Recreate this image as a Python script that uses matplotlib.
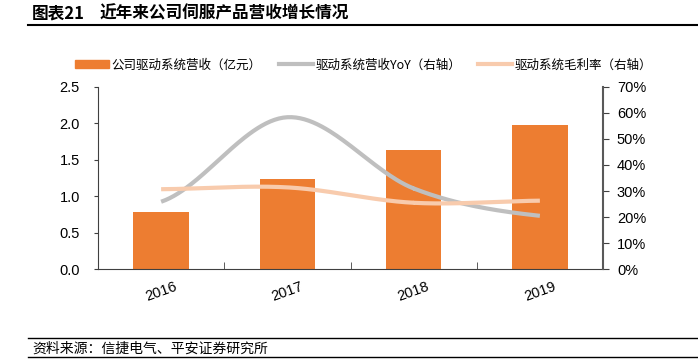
import matplotlib.pyplot as plt
import numpy as np
from matplotlib.lines import Line2D

plt.rcParams['font.family'] = ['Liberation Sans', 'Noto Sans CJK SC', 'DejaVu Sans']

years = ['2016', '2017', '2018', '2019']
revenue = [0.79, 1.24, 1.63, 1.97]          # 亿元
yoy = [25.9, 58.3, 31.0, 20.5]              # %
margin = [30.7, 31.4, 25.5, 26.3]           # %

bar_color = '#ED7D31'
yoy_color = '#BFBFBF'
margin_color = '#F8CBAD'


def smooth(xs, ys, n=60):
    # Catmull-Rom style smoothing like Excel's smoothed line
    xs = np.asarray(xs, float)
    ys = np.asarray(ys, float)
    px = np.concatenate([[2 * xs[0] - xs[1]], xs, [2 * xs[-1] - xs[-2]]])
    py = np.concatenate([[ys[0]], ys, [ys[-1]]])
    ox, oy = [], []
    for i in range(1, len(px) - 2):
        t = np.linspace(0, 1, n)
        for p, o in ((px, ox), (py, oy)):
            p0, p1, p2, p3 = p[i - 1], p[i], p[i + 1], p[i + 2]
            o.extend(0.5 * (2 * p1 + (-p0 + p2) * t
                            + (2 * p0 - 5 * p1 + 4 * p2 - p3) * t ** 2
                            + (-p0 + 3 * p1 - 3 * p2 + p3) * t ** 3))
    return np.array(ox), np.array(oy)


fig = plt.figure(figsize=(6.98, 3.59), dpi=100)
ax = fig.add_axes([0.1404, 0.2499, 0.7235, 0.5086])
x = np.arange(len(years))
ax.bar(x, revenue, width=0.44, color=bar_color, zorder=2)
ax.set_xlim(-0.5, 3.5)
ax.set_ylim(0, 2.5)
ax.set_yticks(np.arange(0, 2.51, 0.5))
ax.set_yticklabels([f'{v:.1f}' for v in np.arange(0, 2.51, 0.5)], fontsize=10.5)
ax.set_xticks(x)
ax.set_xticklabels(years, rotation=20, fontsize=10.5)
ax.tick_params(axis='x', length=0, pad=7)
ax.set_xticks([0.5, 1.5, 2.5], minor=True)
ax.tick_params(axis='x', which='minor', direction='in', length=5, color='#404040')
ax.tick_params(axis='y', direction='out', length=3, color='#404040', pad=10)
for s in ['top', 'right']:
    ax.spines[s].set_visible(False)
ax.spines['left'].set_color('#404040')
ax.spines['bottom'].set_color('#404040')

ax2 = ax.twinx()
ax2.set_ylim(0, 70)
ax2.set_yticks(np.arange(0, 71, 10))
ax2.set_yticklabels([f'{v}%' for v in range(0, 71, 10)], fontsize=10.5)
ax2.tick_params(axis='y', direction='out', length=4, color='#404040', pad=6)
for s in ['top', 'left', 'bottom']:
    ax2.spines[s].set_visible(False)
ax2.spines['right'].set_color('#595959')
ax2.spines['right'].set_linewidth(1.5)

sx, sy = smooth(x, yoy)
ax2.plot(sx, sy, color=yoy_color, lw=3, solid_capstyle='butt', zorder=3)
sx, sy = smooth(x, margin)
ax2.plot(sx, sy, color=margin_color, lw=3, solid_capstyle='butt', zorder=3)

handles = [
    plt.Rectangle((0, 0), 1, 1, color=bar_color),
    Line2D([0], [0], color=yoy_color, lw=3),
    Line2D([0], [0], color=margin_color, lw=3),
]
labels = ['公司驱动系统营收（亿元）', '驱动系统营收YoY（右轴）', '驱动系统毛利率（右轴）']
fig.legend(handles, labels, loc='center', bbox_to_anchor=(0.521, 0.819), ncol=3,
           frameon=False, handlelength=2.7, columnspacing=1.4,
           handletextpad=0.2, prop={'family': ['Noto Sans CJK SC'], 'size': 9})

fig.text(0.046, 0.962, '图表21', fontsize=12, fontweight='bold',
         family=['Noto Sans CJK SC'], va='center')
fig.text(0.142, 0.962, '近年来公司伺服产品营收增长情况', fontsize=12, fontweight='bold',
         family=['Noto Sans CJK SC'], va='center')
fig.add_artist(Line2D([0.04, 1.0], [0.93, 0.93], color='black', lw=1.5))

fig.add_artist(Line2D([0.04, 1.0], [0.058, 0.058], color='black', lw=1))
fig.add_artist(Line2D([0.04, 1.0], [0.005, 0.005], color='black', lw=1))
fig.text(0.046, 0.03, '资料来源：信捷电气、平安证券研究所', fontsize=10, style='italic',
         family=['Noto Sans CJK SC'], va='center')

fig.savefig('out.png', dpi=100)
